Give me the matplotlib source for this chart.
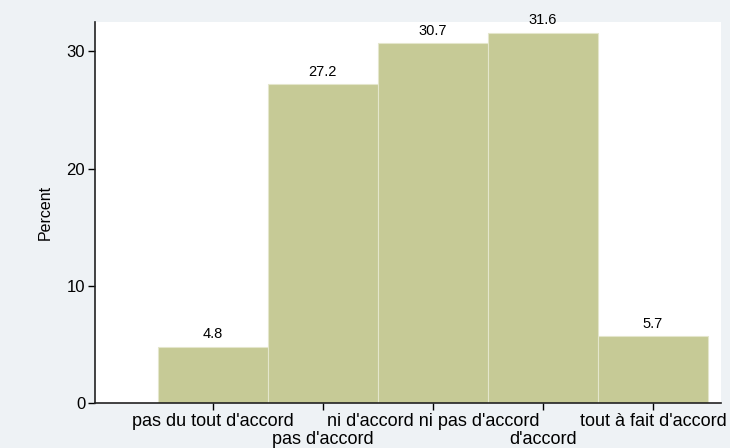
import matplotlib
matplotlib.use('Agg')
import matplotlib.pyplot as plt

plt.rcParams['font.family'] = ['Liberation Sans', 'DejaVu Sans']

# Data
categories = ["pas du tout d'accord", "pas d'accord", "ni d'accord ni pas d'accord",
              "d'accord", "tout à fait d'accord"]
positions = [1, 2, 3, 4, 5]
percent = [4.8, 27.2, 30.7, 31.6, 5.7]
y_ticks = [0, 10, 20, 30]

fig = plt.figure(figsize=(7.3, 4.48), dpi=100)
fig.patch.set_facecolor('#eef2f5')
ax = fig.add_axes([0.130, 0.1004, 0.858, 0.8506])
ax.set_facecolor('white')

ax.bar(positions, percent, width=1.0, color='#c6ca96',
       edgecolor='#e4e6cc', linewidth=0.8)
for x, v in zip(positions, percent):
    ax.text(x, v + 0.45, f"{v:.1f}", ha='center', va='bottom', fontsize=10.5)

ax.set_xlim(-0.07, 5.62)
ax.set_ylim(0, 32.5)
ax.set_yticks(y_ticks)
ax.set_ylabel('Percent', fontsize=11.5, labelpad=10)

# odd categories on first row (major ticks), even ones on second row (minor ticks)
ax.set_xticks(positions[0::2])
ax.set_xticklabels(categories[0::2], fontsize=13)
ax.set_xticks(positions[1::2], minor=True)
ax.set_xticklabels(categories[1::2], minor=True, fontsize=13)
ax.tick_params(axis='x', which='major', length=5, width=1, direction='out', pad=2)
ax.tick_params(axis='x', which='minor', length=5, width=1, direction='out', pad=15)
ax.tick_params(axis='y', labelsize=12, length=5, width=1, direction='out', pad=2)

for s in ['top', 'right']:
    ax.spines[s].set_visible(False)
for s in ['left', 'bottom']:
    ax.spines[s].set_linewidth(1.2)
    ax.spines[s].set_color('#222222')

plt.savefig('out.png', dpi=100, facecolor=fig.get_facecolor())
